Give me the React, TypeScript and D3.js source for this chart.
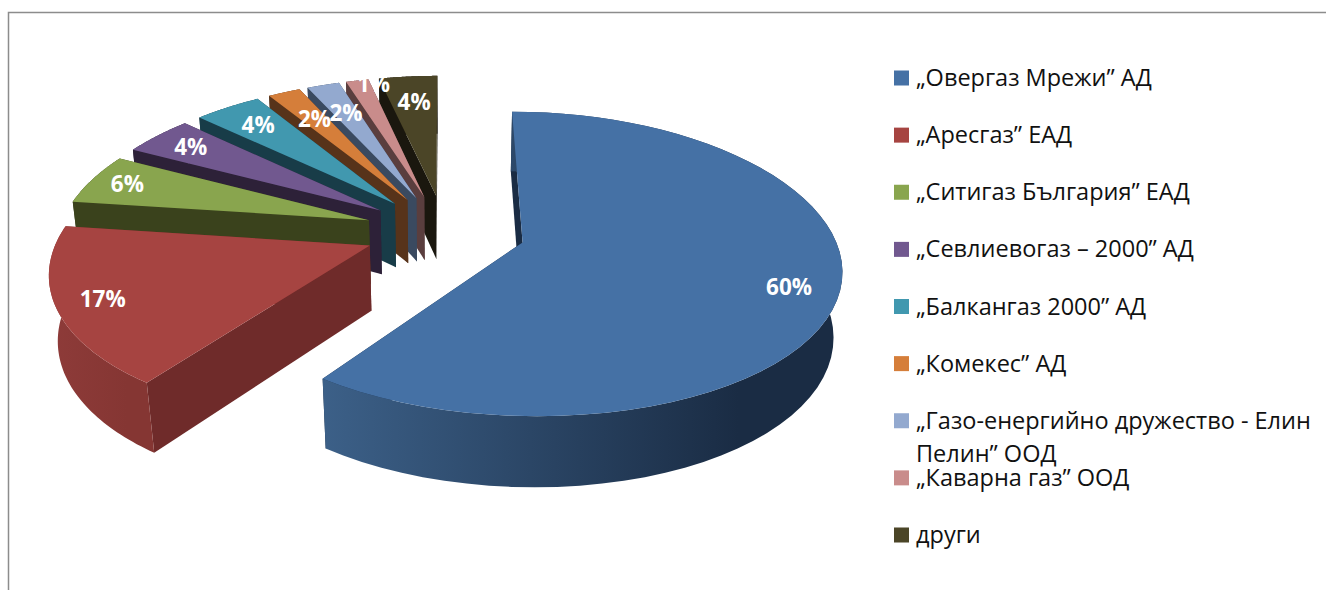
import React from "react";
import * as d3 from "d3";

const companies = [
  "„Овергаз Мрежи” АД",
  "„Аресгаз” ЕАД",
  "„Ситигаз България” ЕАД",
  "„Севлиевогаз – 2000” АД",
  "„Балкангаз 2000” АД",
  "„Комекес” АД",
  "„Газо-енергийно дружество - Елин",
  "„Каварна газ” ООД",
  "други",
];
const legendContinuation = "Пелин” ООД";
const shares = [60.0, 17.1, 5.5, 4.3, 4.1, 2.0, 2.0, 1.4, 3.6];
const faceColors = ["#4571A5", "#A64441", "#89A54E", "#71588F", "#4198AF", "#D57E3A", "#93A9CF", "#C98C8B", "#4B4527"];
const wallColors = ["#1A2C44", "#6F2B2A", "#3A421C", "#2D2138", "#183C48", "#57331A", "#3A4A60", "#5A3E3E", "#1A170E"];
const arcWallStart = ["#3C6088", "#8E3B39", "#3A421C", "#2D2138", "#183C48", "#57331A", "#3A4A60", "#5A3E3E", "#1A170E"];
const arcWallEnd = ["#1A2C44", "#853633", "#3A421C", "#2D2138", "#183C48", "#57331A", "#3A4A60", "#5A3E3E", "#1A170E"];
const labelReach = [0.85, 0.86, 0.87, 0.84, 0.8, 0.73, 0.73, 0.95, 0.76];
const labelTurn = [0.03, 0, 0, 0, 0, 0, 0, 0.055, 0];

const cx = 445, cy = 231, Rx = 310, Ry = 146, perspX = 0.155, perspY = 0.14;
const depthPersp = 0.022, depth = 66, explodeX = 0.26, explodeY = 0.25;

function project(u: number, v: number, d: number): [number, number] {
  return [
    cx + (Rx * u) / (1 - perspX * v + depthPersp * d),
    cy + (Ry * v + depth * d) / (1 - perspY * v + depthPersp * d),
  ];
}

const pieGen = d3.pie<number>().sort(null).value((d) => d);
const arcsData = pieGen(shares);
const fmt = d3.format(".0%");
const total = d3.sum(shares);
const line = d3.line();

const legendY = d3.scaleLinear().domain([0, companies.length - 1]).range([78, 535]);
const legendFont = "'Open Sans', sans-serif";

export default function App() {
  const slices = arcsData.map((a, i) => {
    const mid = (a.startAngle + a.endAngle) / 2;
    const ou = Math.sin(mid) * explodeX;
    const ov = -Math.cos(mid) * explodeY;
    const angles = d3.range(0, 61).map((k) => a.startAngle + ((a.endAngle - a.startAngle) * k) / 60);
    const rim = (d: number) => angles.map((t) => project(ou + Math.sin(t), ov - Math.cos(t), d));
    const top = rim(0);
    const bottom = rim(1);
    const apexTop = project(ou, ov, 0);
    const apexBottom = project(ou, ov, 1);
    const facePath = line([apexTop, ...top])! + "Z";
    const startWall = line([apexTop, top[0], bottom[0], apexBottom])! + "Z";
    const endWall = line([apexTop, top[60], bottom[60], apexBottom])! + "Z";
    const arcWall = line([...top, ...bottom.slice().reverse()])! + "Z";
    const r = labelReach[i];
    const labAngle = mid + labelTurn[i];
    const lab = project(ou + Math.sin(labAngle) * r, ov - Math.cos(labAngle) * r, 0);
    const xs = top.map((p) => p[0]);
    return { i, facePath, startWall, endWall, arcWall, lab, x0: d3.min(xs)!, x1: d3.max(xs)!, share: a.value / total };
  });
  const order = slices.slice().reverse();
  return (
    <svg width={1326} height={590} style={{ position: "absolute", left: 0, top: 0, background: "#fff" }}>
      <defs>
        {slices.map((s) => (
          <linearGradient key={s.i} id={`wall${s.i}`} gradientUnits="userSpaceOnUse" x1={s.x0} x2={s.x0 + (s.x1 - s.x0) * 0.8} y1={0} y2={0}>
            <stop offset="0" stopColor={arcWallStart[s.i]} />
            <stop offset="1" stopColor={arcWallEnd[s.i]} />
          </linearGradient>
        ))}
      </defs>
      <path d="M8.5,590V12.5H1326" fill="none" stroke="#8C8C8C" strokeWidth={1.5} />
      {order.map((s) => (
        <g key={s.i}>
          <path d={s.endWall} fill={wallColors[s.i]} />
          <path d={s.startWall} fill={wallColors[s.i]} />
          <path d={s.arcWall} fill={`url(#wall${s.i})`} />
          <path d={s.facePath} fill={faceColors[s.i]} />
        </g>
      ))}
      {slices.map((s) => (
        <text key={s.i} x={s.lab[0]} y={s.lab[1]} dy="0.35em" textAnchor="middle" fill="#fff"
          fontFamily={legendFont} fontWeight={700} fontSize={22.5}>
          {fmt(s.share)}
        </text>
      ))}
      {companies.map((name, i) => (
        <g key={name}>
          <rect x={894} y={legendY(i) - 7.5} width={15} height={15} fill={faceColors[i]} />
          <text x={916} y={legendY(i) + 8} fontFamily={legendFont} fontSize={23.5} fill="#111">{name}</text>
        </g>
      ))}
      <text x={916} y={legendY(6) + 41} fontFamily={legendFont} fontSize={23.5} fill="#111">{legendContinuation}</text>
    </svg>
  );
}
